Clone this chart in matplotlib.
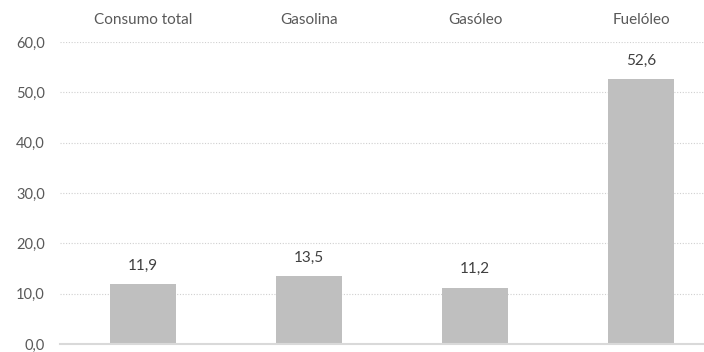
import matplotlib
matplotlib.use("Agg")
import matplotlib.pyplot as plt
import numpy as np

categories = ["Consumo total", "Gasolina", "Gasóleo", "Fuelóleo"]
values = [11.9, 13.5, 11.2, 52.6]
yticks = [0, 10, 20, 30, 40, 50, 60]

plt.rcParams['font.family'] = ['Lato', 'DejaVu Sans']

fig = plt.figure(figsize=(7.04, 3.52), dpi=100)
# axes extend past the right edge like the original crop
ax = fig.add_axes([60/704, 8/352, 664/704, 302/352])

x = np.arange(len(categories))
bars = ax.bar(x, values, width=0.4, color="#BFBFBF", zorder=2)

for b, v in zip(bars, values):
	ax.text(b.get_x() + b.get_width()/2, v + 2.3, f"{v:.1f}".replace(".", ","),
		ha="center", va="bottom", fontsize=11, color="#404040")

ax.set_xlim(-0.5, len(categories) - 0.5)
ax.set_ylim(0, 60)
ax.set_yticks(yticks)
ax.set_yticklabels([f"{t:.1f}".replace(".", ",") for t in yticks], fontsize=10.5, color="#595959")
ax.yaxis.grid(True, linestyle=(0, (1, 1.5)), color="#D0D0D0", linewidth=0.8, zorder=0)

ax.xaxis.tick_top()
ax.set_xticks(x)
ax.set_xticklabels(categories, fontsize=11, color="#595959")
ax.tick_params(axis="both", length=0)
ax.tick_params(axis="x", pad=11)
ax.tick_params(axis="y", pad=11)

for s in ["top", "right", "left"]:
	ax.spines[s].set_visible(False)
ax.spines["bottom"].set_color("#D9D9D9")
ax.spines["bottom"].set_linewidth(1.5)

fig.savefig("out.png", dpi=100)
